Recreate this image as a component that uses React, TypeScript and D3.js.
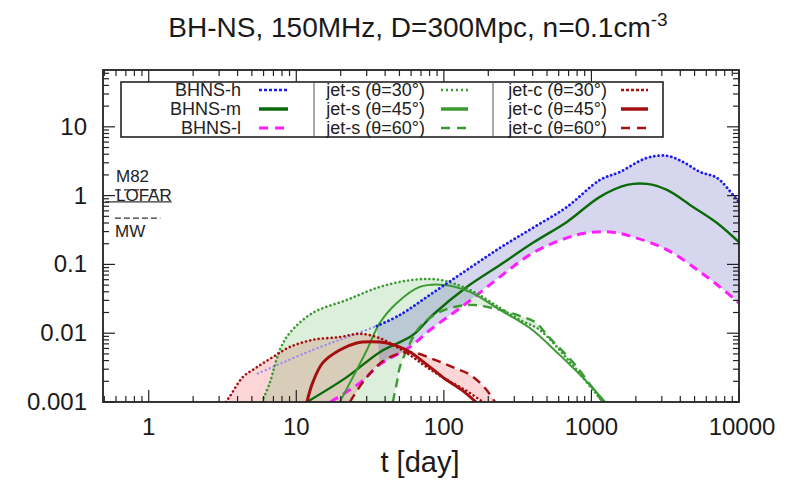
import React from 'react';
import * as d3 from 'd3';

type P = [number, number];

// axes
const tDomain: [number, number] = [0.49, 10000];
const fDomain: [number, number] = [0.001, 67];
const xTicks = [1, 10, 100, 1000, 10000];
const xTickLabels = ['1', '10', '100', '1000', '10000'];
const yTicks = [0.001, 0.01, 0.1, 1, 10];
const yTickLabels = ['0.001', '0.01', '0.1', '1', '10'];

// BH-NS merger ejecta (t [day], flux)
const bhnsH: P[] = [
  [5.5, 0.0026], [12.9, 0.0057], [24.2, 0.0094], [35.1, 0.0127], [50.3, 0.0184],
  [84, 0.0385], [143, 0.083], [240, 0.174], [401, 0.34], [682, 0.685],
  [1142, 1.69], [1560, 2.21], [2378, 3.54], [3250, 3.79], [4170, 3.1],
  [5440, 2.21], [7100, 1.81], [9100, 1.03], [10000, 0.81],
];
const bhnsM: P[] = [
  [11.8, 0.001], [22, 0.0023], [36.8, 0.0053], [61.6, 0.0094], [84, 0.0184],
  [143, 0.047], [240, 0.098], [401, 0.206], [682, 0.415], [1142, 0.96],
  [1742, 1.43], [2378, 1.48], [3250, 1.21], [4880, 0.685], [7100, 0.4], [10000, 0.21],
];
const bhnsL: P[] = [
  [17, 0.001], [27, 0.0019], [36.8, 0.0035], [58.8, 0.0063], [80.4, 0.0111],
  [143, 0.0275], [240, 0.066], [401, 0.147], [682, 0.243], [932, 0.287],
  [1335, 0.297], [1912, 0.251], [3250, 0.163], [5440, 0.078], [7430, 0.047], [10000, 0.0275],
];

// jet, slow (jet-s)
const jetS30: P[] = [
  [5.84, 0.001], [6.61, 0.0019], [7.73, 0.0057], [9.03, 0.0101], [12.9, 0.0197],
  [22, 0.0305], [36.8, 0.0471], [61.6, 0.0596], [94, 0.0596], [150, 0.0426],
  [240, 0.0233], [327, 0.0156], [448, 0.0111], [715, 0.0038], [1142, 0.00114], [1216, 0.001],
];
const jetS45: P[] = [
  [19.7, 0.001], [24.2, 0.0023], [30.1, 0.0057], [36.8, 0.0141], [48, 0.0275],
  [68.7, 0.0471], [101, 0.0504], [150, 0.0398], [240, 0.0218], [383, 0.0119],
  [611, 0.0048], [977, 0.00177], [1235, 0.001],
];
const jetS60: P[] = [
  [45.1, 0.001], [48, 0.0019], [50.3, 0.0032], [56.1, 0.0057], [68.7, 0.0123],
  [94, 0.0204], [150, 0.0258], [240, 0.0218], [327, 0.0178], [414, 0.0146],
  [523, 0.0085], [773, 0.0035], [1190, 0.001],
];

// jet, cocoon (jet-c)
const jetC30: P[] = [
  [3.33, 0.001], [3.54, 0.0012], [4.34, 0.0023], [5.4, 0.0032], [6.93, 0.0045],
  [9.03, 0.0063], [12.9, 0.008], [19.7, 0.0088], [27, 0.0098], [36.8, 0.0085],
  [48, 0.0063], [61.6, 0.0045], [76.7, 0.0032], [101, 0.0022], [139, 0.0015], [184, 0.001],
];
const jetC45: P[] = [
  [11.8, 0.001], [12.9, 0.0019], [15.1, 0.0037], [19.7, 0.0057], [25.7, 0.0072],
  [31.5, 0.0075], [41.1, 0.0072], [56.1, 0.0057], [76.7, 0.0035], [101, 0.0022],
  [132, 0.0015], [165, 0.001],
];
const jetC60: P[] = [
  [23.1, 0.001], [29.1, 0.0021], [39.8, 0.0041], [58.8, 0.0053], [86.9, 0.0041],
  [119, 0.0031], [150, 0.0025], [190, 0.0016], [222, 0.001],
];

// detector / galaxy reference levels
const refNames = ['M82', 'LOFAR', 'MW'];
const refLevels = [1.21, 0.81, 0.47];
const refSpans: P[] = [[0.59, 1.28], [0.51, 1.43], [0.59, 1.2]];

const bhnsBandStart = 35;

const legendCol1 = ['BHNS-h', 'BHNS-m', 'BHNS-l'];
const legendCol2 = ['jet-s (θ=30°)', 'jet-s (θ=45°)', 'jet-s (θ=60°)'];
const legendCol3 = ['jet-c (θ=30°)', 'jet-c (θ=45°)', 'jet-c (θ=60°)'];

const FONT = "'Liberation Sans', Arial, Helvetica, sans-serif";

const BLUE = '#1c1cf0';
const DKGREEN = '#0b6b0b';
const MAGENTA = '#ff1cff';
const GREEN = '#3b9b32';
const RED = '#a50f0f';

const DOT = '0.1 4.2';
const DASH = '9 6';

export default function App() {
  const left = 103, right = 739, top = 70, bottom = 402;
  const x = d3.scaleLog().domain(tDomain).range([left, right]);
  const y = d3.scaleLog().domain(fDomain).range([bottom, top]);

  const line = d3
    .line<P>()
    .x((d) => x(d[0]))
    .y((d) => y(d[1]))
    .curve(d3.curveCatmullRom.alpha(0.5));

  const band = (upper: P[], lower: P[]) => {
    const a = line(upper) || '';
    const b = line([...lower].reverse()) || '';
    return a + 'L' + b.slice(1) + 'Z';
  };

  const bhnsHEarly = bhnsH.filter((d) => d[0] <= bhnsBandStart + 0.2);
  const bhnsHLate = bhnsH.filter((d) => d[0] >= bhnsBandStart);
  const bhnsLLate = bhnsL.filter((d) => d[0] >= bhnsBandStart);

  const minorX: number[] = [];
  for (let e = -1; e <= 4; e++)
    for (let m = 2; m <= 9; m++) {
      const v = m * Math.pow(10, e);
      if (v >= tDomain[0] && v <= tDomain[1]) minorX.push(v);
    }
  const minorY: number[] = [];
  for (let e = -3; e <= 1; e++)
    for (let m = 2; m <= 9; m++) {
      const v = m * Math.pow(10, e);
      if (v >= fDomain[0] && v <= fDomain[1]) minorY.push(v);
    }

  const series = [
    { data: bhnsM, color: DKGREEN, width: 2.4, dash: null as string | null },
    { data: bhnsL, color: MAGENTA, width: 3, dash: DASH },
    { data: jetS30, color: GREEN, width: 2.6, dash: DOT },
    { data: jetS45, color: GREEN, width: 2, dash: null },
    { data: jetS60, color: GREEN, width: 2.4, dash: DASH },
    { data: jetC30, color: RED, width: 2.6, dash: DOT },
    { data: jetC45, color: RED, width: 3, dash: null },
    { data: jetC60, color: RED, width: 2.4, dash: DASH },
  ];

  const legendStyles = [
    [
      { color: BLUE, width: 2.5, dash: '3 2' },
      { color: DKGREEN, width: 3.5, dash: null as string | null },
      { color: MAGENTA, width: 3, dash: '9 7' },
    ],
    [
      { color: GREEN, width: 2.5, dash: '2 3' },
      { color: GREEN, width: 3.5, dash: null },
      { color: GREEN, width: 2.5, dash: '9 7' },
    ],
    [
      { color: RED, width: 2.5, dash: '3 2' },
      { color: RED, width: 3.5, dash: null },
      { color: RED, width: 2.5, dash: '9 7' },
    ],
  ];
  const legendCols = [
    { labels: legendCol1, textX: 241, sx0: 259, sx1: 288 },
    { labels: legendCol2, textX: 425, sx0: 441, sx1: 468 },
    { labels: legendCol3, textX: 607, sx0: 621, sx1: 648 },
  ];
  const rowY = [90, 109, 128];

  return (
    <svg
      width={791}
      height={481}
      style={{ position: 'absolute', left: 0, top: 0, background: '#fff' }}
      fontFamily={FONT}
    >
      <defs>
        <clipPath id="plot">
          <rect x={left} y={top} width={right - left} height={bottom - top} />
        </clipPath>
      </defs>

      <text x={418} y={37} textAnchor="middle" fontSize={28} fill="#1a1a1a">
        BH-NS, 150MHz, D=300Mpc, n=0.1cm
        <tspan dy={-11} fontSize={19}>-3</tspan>
      </text>

      <g clipPath="url(#plot)">
        <path d={band(jetC30, jetC60)} fill="rgba(240,50,50,0.2)" />
        <path d={band(jetS30, jetS60)} fill="rgba(40,160,40,0.17)" />
        <path d={band(bhnsHLate, bhnsLLate)} fill="rgba(70,70,180,0.22)" />

        <path
          d={line(bhnsHEarly) || ''}
          fill="none"
          stroke="#9a8cf0"
          strokeWidth={2.4}
          strokeDasharray={DOT}
          strokeLinecap="round"
        />
        {series.map((s, i) => (
          <path
            key={i}
            d={line(s.data) || ''}
            fill="none"
            stroke={s.color}
            strokeWidth={s.width}
            strokeDasharray={s.dash || undefined}
            strokeLinecap={s.dash === DOT ? 'round' : 'butt'}
            strokeLinejoin="round"
          />
        ))}
        <path
          d={line(bhnsHLate) || ''}
          fill="none"
          stroke={BLUE}
          strokeWidth={2.8}
          strokeDasharray={DOT}
          strokeLinecap="round"
        />

        {refLevels.map((v, i) => (
          <line
            key={i}
            x1={x(refSpans[i][0])}
            x2={x(refSpans[i][1])}
            y1={y(v)}
            y2={y(v)}
            stroke="#333"
            strokeWidth={1.2}
            strokeDasharray={i === 1 ? undefined : '6 3'}
          />
        ))}
      </g>

      {/* reference labels */}
      <text x={116} y={182} fontSize={17} fill="#222">{refNames[0]}</text>
      <text x={116} y={201} fontSize={17} fill="#222">{refNames[1]}</text>
      <text x={115} y={237} fontSize={17} fill="#222">{refNames[2]}</text>

      {/* ticks */}
      <g stroke="#222" strokeWidth={1.2}>
        {xTicks.map((t) => (
          <g key={'xt' + t}>
            <line x1={x(t)} x2={x(t)} y1={bottom} y2={bottom - 12} />
            <line x1={x(t)} x2={x(t)} y1={top} y2={top + 12} />
          </g>
        ))}
        {minorX.map((t) => (
          <g key={'xm' + t}>
            <line x1={x(t)} x2={x(t)} y1={bottom} y2={bottom - 6} />
            <line x1={x(t)} x2={x(t)} y1={top} y2={top + 6} />
          </g>
        ))}
        {yTicks.map((v) => (
          <g key={'yt' + v}>
            <line x1={left} x2={left + 12} y1={y(v)} y2={y(v)} />
            <line x1={right} x2={right - 12} y1={y(v)} y2={y(v)} />
          </g>
        ))}
        {minorY.map((v) => (
          <g key={'ym' + v}>
            <line x1={left} x2={left + 6} y1={y(v)} y2={y(v)} />
            <line x1={right} x2={right - 6} y1={y(v)} y2={y(v)} />
          </g>
        ))}
      </g>

      {/* legend */}
      <rect x={121} y={82} width={542} height={55} fill="#fff" stroke="#222" strokeWidth={1.6} />
      <line x1={314} x2={314} y1={83} y2={136} stroke="#555" strokeWidth={1} />
      <line x1={493} x2={493} y1={83} y2={136} stroke="#555" strokeWidth={1} />
      {legendCols.map((c, ci) =>
        c.labels.map((lab, ri) => {
          const st = legendStyles[ci][ri];
          return (
            <g key={ci + '-' + ri}>
              <text
                x={c.textX}
                y={rowY[ri] + 6}
                textAnchor="end"
                fontSize={18}
                fill="#222"
              >
                {lab}
              </text>
              <line
                x1={c.sx0}
                x2={c.sx1}
                y1={rowY[ri]}
                y2={rowY[ri]}
                stroke={st.color}
                strokeWidth={st.width}
                strokeDasharray={st.dash || undefined}
              />
            </g>
          );
        })
      )}

      {/* frame */}
      <rect
        x={left}
        y={top}
        width={right - left}
        height={bottom - top}
        fill="none"
        stroke="#222"
        strokeWidth={1.8}
      />

      {/* tick labels */}
      {xTicks.map((t, i) => (
        <text key={'xl' + t} x={x(t) + (i === 4 ? 3 : 0)} y={435} textAnchor="middle" fontSize={24} fill="#1a1a1a">
          {xTickLabels[i]}
        </text>
      ))}
      {yTicks.map((v, i) => (
        <text key={'yl' + v} x={87} y={y(v) + 8} textAnchor="end" fontSize={24} fill="#1a1a1a">
          {yTickLabels[i]}
        </text>
      ))}
      <text x={420} y={472} textAnchor="middle" fontSize={29} fill="#1a1a1a">
        t [day]
      </text>
    </svg>
  );
}
